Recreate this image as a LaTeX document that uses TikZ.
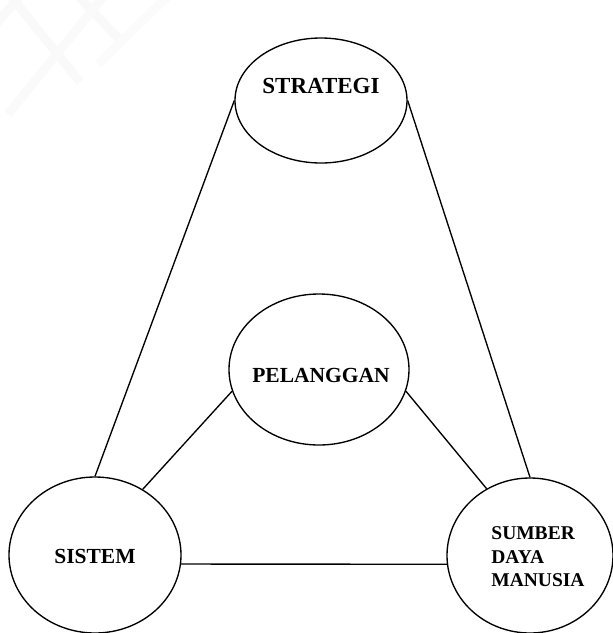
\documentclass[tikz,border=0pt]{standalone}
\usepackage{fontspec}
\setmainfont{Liberation Serif}
\usetikzlibrary{shapes.geometric}
\begin{document}
\begin{tikzpicture}[x=1pt,y=-1pt,
  circ/.style={draw,ellipse,line width=1.35pt,inner sep=0pt},
  lbl/.style={font=\bfseries\fontsize{21.5}{24}\selectfont,inner sep=0pt},
  link/.style={line width=1.35pt},
  band/.style={line width=9pt,line cap=butt,draw=black!2.5}]
\useasboundingbox (0,0) rectangle (613,633);
% faint crossed bands in the top-left corner
\draw[band] (12,-2) -- (72,72);
\draw[band,draw=black!1.8] (72,72) -- (80,82);
\draw[band] (78,-4) -- (122,42);
\draw[band] (-4,24) -- (20,-4);
\draw[band,draw=black!2] (8,114) -- (104,-4);
\draw[band,draw=black!1.5] (98,64) -- (168,-4);
% the four ellipses
\node[circ,fill=white,minimum width=172pt,minimum height=125pt] (strategi) at (321,100.5) {};
\node[circ,minimum width=180pt,minimum height=151pt] (pelanggan) at (319,369.5) {};
\node[circ,minimum width=172pt,minimum height=156pt] (sistem) at (95,555) {};
\node[circ,minimum width=166pt,minimum height=155pt] (sdm) at (530,555.5) {};
% their labels
\node[lbl,font=\bfseries\fontsize{23}{24}\selectfont] (tstrategi) at (321,86) {STRATEGI};
\node[lbl] (tpelanggan) at (321,375) {PELANGGAN};
\node[lbl] (tsistem) at (95,556) {SISTEM};
\node[font=\bfseries\fontsize{19.5}{23.5}\selectfont,inner sep=0pt,align=left] (tsdm) at (538,557) {SUMBER\\DAYA\\MANUSIA};
% connections
\draw[link] (strategi.west) -- (sistem.north);
\draw[link] (strategi.east) -- (sdm.north);
\draw[link] (pelanggan.194) -- (sistem.54);
\draw[link] (pelanggan.346) -- (sdm.123);
\draw[link] (sistem.354) -- (sdm.186);
\end{tikzpicture}
\end{document}
